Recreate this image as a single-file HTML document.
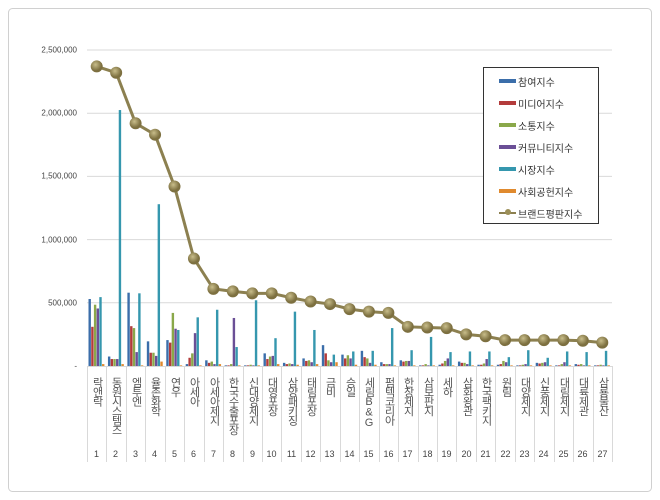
<!DOCTYPE html>
<html><head><meta charset="utf-8"><style>
body{margin:0;background:#fff;}
#w{position:relative;width:660px;height:500px;overflow:hidden;font-family:"Liberation Sans","Noto Sans CJK KR",sans-serif;}
.yl{position:absolute;right:583px;font-size:8px;color:#444;transform:translateY(-50%);}
.cl{position:absolute;top:377px;width:19px;font-size:11px;color:#555;writing-mode:vertical-lr;text-orientation:upright;line-height:19px;letter-spacing:-1.5px;}
.cn{position:absolute;top:449px;width:19px;text-align:center;font-size:9px;color:#444;}
#lg{position:absolute;left:483px;top:67px;width:114px;height:155px;border:1px solid #333;background:#fff;font-size:10px;color:#333;}
#lg div{position:absolute;left:34px;}
#lg i{position:absolute;left:-19px;top:5px;width:17px;height:4px;}
#lg b{position:absolute;left:-13px;top:3px;width:6px;height:6px;border-radius:50%;background:#9c8f58;}
</style></head><body><div id="w">
<svg id="s" width="660" height="500" style="position:absolute;left:0;top:0"></svg>
<div class="yl" style="top:50px">2,500,000</div>
<div class="yl" style="top:113px">2,000,000</div>
<div class="yl" style="top:176px">1,500,000</div>
<div class="yl" style="top:240px">1,000,000</div>
<div class="yl" style="top:303px">500,000</div>
<div class="yl" style="top:366px">-</div>
<div class="cl" style="left:87px">락앤락</div><div class="cl" style="left:106px">동원시스템즈</div><div class="cl" style="left:126px">엠투엔</div><div class="cl" style="left:145px">율촌화학</div><div class="cl" style="left:165px">연우</div><div class="cl" style="left:184px">아세아</div><div class="cl" style="left:204px">아세아제지</div><div class="cl" style="left:223px">한국수출포장</div><div class="cl" style="left:243px">신대양제지</div><div class="cl" style="left:262px">대영포장</div><div class="cl" style="left:282px">삼양패키징</div><div class="cl" style="left:301px">태림포장</div><div class="cl" style="left:320px">금비</div><div class="cl" style="left:340px">승일</div><div class="cl" style="left:359px">세림B&amp;G</div><div class="cl" style="left:379px">펌텍코리아</div><div class="cl" style="left:398px">한창제지</div><div class="cl" style="left:418px">삼보판지</div><div class="cl" style="left:437px">세하</div><div class="cl" style="left:457px">삼화왕관</div><div class="cl" style="left:476px">한국팩키지</div><div class="cl" style="left:496px">원림</div><div class="cl" style="left:515px">대양제지</div><div class="cl" style="left:534px">신풍제지</div><div class="cl" style="left:554px">대림제지</div><div class="cl" style="left:573px">대륙제관</div><div class="cl" style="left:593px">삼룡물산</div>
<div class="cn" style="left:87px">1</div><div class="cn" style="left:106px">2</div><div class="cn" style="left:126px">3</div><div class="cn" style="left:145px">4</div><div class="cn" style="left:165px">5</div><div class="cn" style="left:184px">6</div><div class="cn" style="left:204px">7</div><div class="cn" style="left:223px">8</div><div class="cn" style="left:243px">9</div><div class="cn" style="left:262px">10</div><div class="cn" style="left:282px">11</div><div class="cn" style="left:301px">12</div><div class="cn" style="left:320px">13</div><div class="cn" style="left:340px">14</div><div class="cn" style="left:359px">15</div><div class="cn" style="left:379px">16</div><div class="cn" style="left:398px">17</div><div class="cn" style="left:418px">18</div><div class="cn" style="left:437px">19</div><div class="cn" style="left:457px">20</div><div class="cn" style="left:476px">21</div><div class="cn" style="left:496px">22</div><div class="cn" style="left:515px">23</div><div class="cn" style="left:534px">24</div><div class="cn" style="left:554px">25</div><div class="cn" style="left:573px">26</div><div class="cn" style="left:593px">27</div>
<div id="lg">
<div style="top:6px"><i style="background:#3b6eaa"></i>참여지수</div>
<div style="top:28px"><i style="background:#b33b3b"></i>미디어지수</div>
<div style="top:50px"><i style="background:#8aa84a"></i>소통지수</div>
<div style="top:72px"><i style="background:#6b4f96"></i>커뮤니티지수</div>
<div style="top:94px"><i style="background:#3597ae"></i>시장지수</div>
<div style="top:116px"><i style="background:#e08a2e"></i>사회공헌지수</div>
<div style="top:138px"><i style="background:#8c8050;height:2px;top:6px"></i><b></b>브랜드평판지수</div>
</div>
</div>
<script>
var s=document.getElementById('s'),h='';
h+='<rect x="8.5" y="8.5" width="643" height="483" rx="4" fill="none" stroke="#d0d0d0"/>';
for(var i=0;i<5;i++){var y=50+i*63.2;h+='<line x1="87" x2="612" y1="'+y+'" y2="'+y+'" stroke="#d9d9d9"/>';}
h+='<line x1="87" x2="612" y1="366.5" y2="366.5" stroke="#d9d9d9"/>';
var cw=525/27;
for(i=0;i<=27;i++){var x=Math.round(87+i*cw)+.5;h+='<line x1="'+x+'" x2="'+x+'" y1="366" y2="462" stroke="#d9d9d9"/>';}
var B=[[530,310,485,455,545,15],[75,55,55,55,2025,15],[580,315,300,110,575,5],[195,105,105,80,1280,35],[205,185,420,295,285,5],[15,65,100,260,385,5],[45,25,35,15,445,15],[5,5,15,380,150,5],[5,5,10,5,520,5],[100,55,75,80,220,15],[25,15,20,15,430,10],[60,40,45,30,285,15],[165,100,45,30,90,30],[90,60,85,60,115,10],[120,70,60,25,120,10],[30,15,15,15,300,5],[45,35,40,40,125,5],[5,5,15,5,230,5],[10,20,40,60,110,5],[35,25,25,15,115,5],[10,10,20,55,115,5],[10,15,40,30,70,5],[5,5,10,15,125,5],[25,20,25,30,65,5],[5,5,15,30,115,5],[15,10,15,5,110,5],[5,5,10,5,120,5]];
var C=['#3b6eaa','#b33b3b','#8aa84a','#6b4f96','#3597ae','#e08a2e'];
var L=[2370,2320,1920,1830,1420,850,610,590,575,575,540,510,490,450,430,420,310,305,300,250,235,205,205,205,205,200,185];
function Y(v){return 366-v*0.1264;}
for(i=0;i<27;i++){var x0=87+i*cw+1.5;for(var j=0;j<6;j++){var y=Y(B[i][j]);h+='<rect x="'+(x0+j*2.7)+'" y="'+y+'" width="2.4" height="'+(366-y)+'" fill="'+C[j]+'"/>';}}
var p=L.map(function(v,i){return (87+(i+.5)*cw)+','+Y(v)}).join(' ');
h+='<polyline points="'+p+'" fill="none" stroke="#8c8050" stroke-width="3"/>';
h+='<defs><radialGradient id="g" cx=".4" cy=".35"><stop offset="0" stop-color="#c8bd8a"/><stop offset="1" stop-color="#7d7040"/></radialGradient></defs>';
L.forEach(function(v,i){h+='<circle cx="'+(87+(i+.5)*cw)+'" cy="'+Y(v)+'" r="6" fill="url(#g)"/>';});
s.innerHTML=h;
</script>
</body></html>
